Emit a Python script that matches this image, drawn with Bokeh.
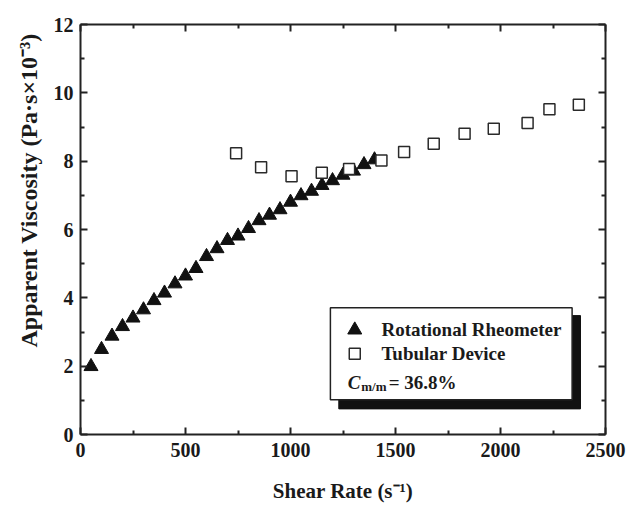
from bokeh.plotting import figure
from bokeh.models import (Range1d, LinearAxis, FixedTicker, Label, Title,
                          CustomJSTickFormatter)
from bokeh.embed import file_html
from bokeh.resources import INLINE

# ---------------- data ----------------
rot_shear = [50, 100, 150, 200, 250, 300, 350, 400, 450, 500, 550, 600, 650, 700,
             750, 800, 850, 900, 950, 1000, 1050, 1100, 1150, 1200, 1250, 1300,
             1350, 1400]
rot_visc = [1.99, 2.49, 2.88, 3.16, 3.41, 3.65, 3.92, 4.14, 4.41, 4.64, 4.86, 5.21,
            5.44, 5.68, 5.81, 6.03, 6.26, 6.42, 6.58, 6.80, 6.99, 7.12, 7.29, 7.43,
            7.59, 7.71, 7.90, 8.04]
tub_shear = [741, 860, 1005, 1149, 1279, 1433, 1541, 1682, 1829, 1968, 2129, 2233, 2373]
tub_visc = [8.23, 7.82, 7.56, 7.66, 7.77, 8.02, 8.27, 8.51, 8.80, 8.95, 9.12, 9.52, 9.65]

x_ticks = [0, 500, 1000, 1500, 2000, 2500]
y_ticks = [0, 2, 4, 6, 8, 10, 12]

x_title = "Shear Rate (s\u207b\u00b9)"
y_title = "Apparent Viscosity (Pa\u00b7s\u00d710\u207b\u00b3)"
legend_labels = ["Rotational Rheometer", "Tubular Device"]
conc_text = "= 36.8%"

FONT = "Liberation Serif"

# ---------------- figure ----------------
p = figure(width=638, height=507, output_backend="svg", toolbar_location=None,
           x_range=Range1d(0, 2500), y_range=Range1d(0, 12),
           min_border_left=80, min_border_right=33, min_border_top=24,
           min_border_bottom=73)
p.background_fill_color = "white"
p.border_fill_color = "white"
p.outline_line_color = None
p.grid.visible = False

x_minor = [(a + b) / 2 for a, b in zip(x_ticks[:-1], x_ticks[1:])]
y_minor = [(a + b) / 2 for a, b in zip(y_ticks[:-1], y_ticks[1:])]
xticker = FixedTicker(ticks=x_ticks, minor_ticks=x_minor)
yticker = FixedTicker(ticks=y_ticks, minor_ticks=y_minor)

blank = CustomJSTickFormatter(code="return ''")

def style_axis(ax):
    ax.axis_line_width = 2
    ax.axis_line_color = "#222222"
    ax.major_tick_in = 7
    ax.major_tick_out = 0
    ax.minor_tick_in = 4
    ax.minor_tick_out = 0
    ax.major_tick_line_width = 2
    ax.minor_tick_line_width = 2
    ax.major_tick_line_color = "#222222"
    ax.minor_tick_line_color = "#222222"
    ax.major_label_text_font = FONT
    ax.major_label_text_font_style = "bold"
    ax.major_label_text_font_size = "20px"
    ax.major_label_text_color = "#1a1a1a"

p.xaxis.ticker = xticker
p.yaxis.ticker = yticker
for ax in p.xaxis + p.yaxis:
    style_axis(ax)
p.xaxis.major_label_standoff = 8
p.yaxis.major_label_standoff = 7

# x title through the axis label
p.xaxis.axis_label = x_title
p.xaxis.axis_label_text_font = FONT
p.xaxis.axis_label_text_font_style = "bold"
p.xaxis.axis_label_text_font_size = "21px"
p.xaxis.axis_label_text_color = "#1a1a1a"
p.xaxis.axis_label_standoff = 19

top_ax = LinearAxis(ticker=xticker, formatter=blank)
right_ax = LinearAxis(ticker=yticker, formatter=blank)
style_axis(top_ax)
style_axis(right_ax)
p.add_layout(top_ax, "above")
p.add_layout(right_ax, "right")

# y title as a left-side title, starting above the frame bottom like the reference
p.add_layout(Title(text=y_title, align="left", offset=87, standoff=18,
                   text_font=FONT, text_font_style="bold",
                   text_font_size="24px", text_color="#1a1a1a"), "left")

# ---------------- data marks ----------------
p.scatter(rot_shear, rot_visc, marker="triangle", size=14,
          fill_color="#111111", line_color="#111111")
p.scatter(tub_shear, tub_visc, marker="square", size=11,
          fill_color="white", line_color="#2a2a2a", line_width=1.5)

# ---------------- legend (manual, with shadow) ----------------
p.quad(left=[1230], right=[2381], top=[3.48], bottom=[0.75],
       fill_color="#111111", line_color="#111111")
p.quad(left=[1190], right=[2341], top=[3.71], bottom=[1.02],
       fill_color="white", line_color="#222222", line_width=1.5)
p.scatter([1306], [3.06], marker="triangle", size=14,
          fill_color="#111111", line_color="#111111")
p.scatter([1306], [2.36], marker="square", size=11,
          fill_color="white", line_color="#2a2a2a", line_width=1.5)
for txt, yy in zip(legend_labels, [3.06, 2.36]):
    p.add_layout(Label(x=1433, y=yy, text=txt, text_align="left",
                       text_baseline="middle", text_font=FONT,
                       text_font_style="bold", text_font_size="19px",
                       text_color="#1a1a1a"))
p.add_layout(Label(x=1273, y=1.52, text="C", text_align="left",
                   text_baseline="alphabetic", text_font=FONT,
                   text_font_style="bold italic", text_font_size="19px",
                   text_color="#1a1a1a"))
p.add_layout(Label(x=1337, y=1.40, text="m/m", text_align="left",
                   text_baseline="alphabetic", text_font=FONT,
                   text_font_style="bold", text_font_size="13px",
                   text_color="#1a1a1a"))
p.add_layout(Label(x=1468, y=1.52, text=conc_text, text_align="left",
                   text_baseline="alphabetic", text_font=FONT,
                   text_font_style="bold", text_font_size="19px",
                   text_color="#1a1a1a"))

open("out.html", "w").write(file_html(p, INLINE))
